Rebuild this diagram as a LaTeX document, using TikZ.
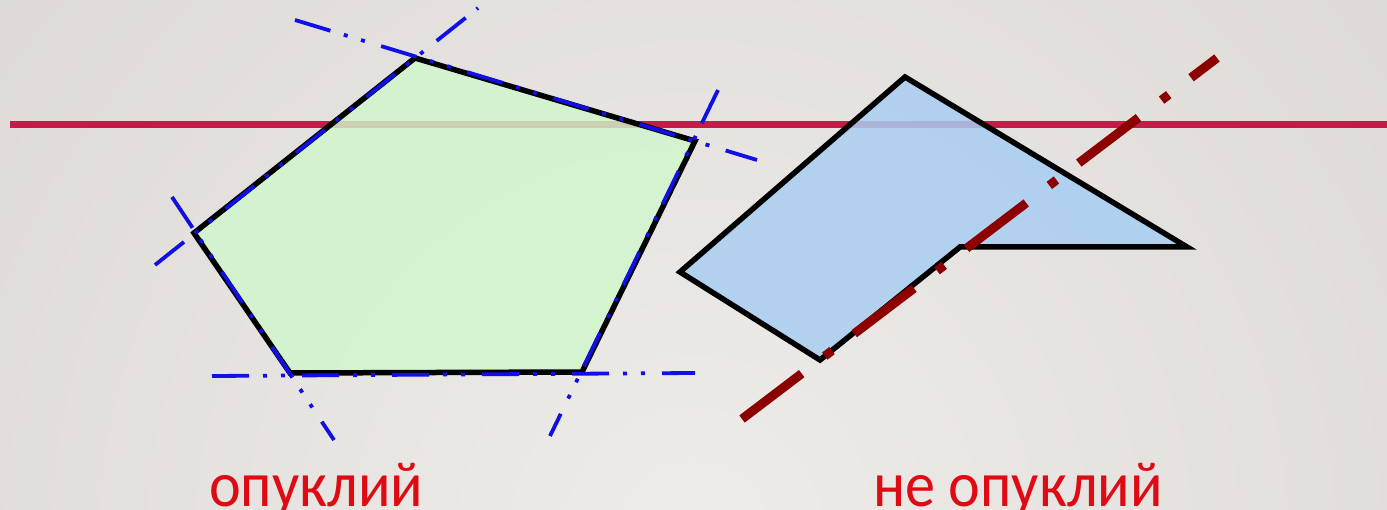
\documentclass[tikz,border=0pt]{standalone}
\usepackage{fontspec}
\setmainfont{Carlito}
\definecolor{bgin}{RGB}{238,236,233}
\definecolor{bgout}{RGB}{220,217,213}
\definecolor{hline}{RGB}{192,30,70}
\definecolor{dred}{RGB}{140,0,0}
\definecolor{lblue}{RGB}{15,15,230}
\definecolor{gfill}{RGB}{208,247,204}
\definecolor{bfill}{RGB}{168,206,242}
\definecolor{txtred}{RGB}{222,10,20}
\tikzset{
  outline/.style={draw=black, line width=5.5pt},
  gshape/.style={fill=gfill, fill opacity=0.82},
  bshape/.style={fill=bfill, fill opacity=0.85},
  extline/.style={draw=lblue, line width=3.8pt, dash pattern=on 37pt off 14pt on 4pt off 14pt on 4pt off 17pt},
  axisline/.style={draw=dred, line width=9pt, dash pattern=on 75pt off 29pt on 9pt off 28pt},
  label/.style={text=txtred, font=\fontsize{64}{66}\selectfont, inner sep=0pt, xscale=0.94}
}
\begin{document}
\begin{tikzpicture}[x=1pt,y=-1pt]
\useasboundingbox (0,0) rectangle (1387,510);
\begin{scope}
  \clip (0,0) rectangle (1387,510);
  \shade[inner color=bgin, outer color=bgout] (693,540) circle (950);
\end{scope}
% horizontal line
\coordinate (h1) at (10,124.5);
\coordinate (h2) at (1387,124.5);
\draw[hline, line width=7.5pt] (h1) -- (h2);
% convex pentagon
\coordinate (T) at (415,58);
\coordinate (R) at (695,141);
\coordinate (BR) at (582,372);
\coordinate (BL) at (290,373);
\coordinate (L) at (194,233);
\fill[gshape] (T) -- (R) -- (BR) -- (BL) -- (L) -- cycle;
\draw[outline] (T) -- (R) -- (BR) -- (BL) -- (L) -- cycle;
% non-convex polygon
\coordinate (P1) at (905,77);
\coordinate (P2) at (1187,247);
\coordinate (P3) at (960,247);
\coordinate (P4) at (820,360);
\coordinate (P5) at (680,272);
\fill[bshape] (P1) -- (P2) -- (P3) -- (P4) -- (P5) -- cycle;
\draw[outline] (P1) -- (P2) -- (P3) -- (P4) -- (P5) -- cycle;
% extended edge lines
\coordinate (e1a) at (155,265); \coordinate (e1b) at (478,8);
\coordinate (e2a) at (295,20);  \coordinate (e2b) at (757,160);
\coordinate (e3a) at (718,90);  \coordinate (e3b) at (550,436);
\coordinate (e4a) at (212,376); \coordinate (e4b) at (695,373);
\coordinate (e5a) at (172,197); \coordinate (e5b) at (334,440);
\draw[extline] (e1a) -- (e1b);
\draw[extline] (e2a) -- (e2b);
\draw[extline] (e3a) -- (e3b);
\draw[extline] (e4a) -- (e4b);
\draw[extline] (e5a) -- (e5b);
% dark red axis
\coordinate (d1) at (742,419);
\coordinate (d2) at (1217,58);
\draw[axisline] (d1) -- (d2);
% labels
\node[label, anchor=base west] (lab1) at (209,506) {опуклий};
\node[label, anchor=base west] (lab2) at (873,506) {не опуклий};
\end{tikzpicture}
\end{document}
